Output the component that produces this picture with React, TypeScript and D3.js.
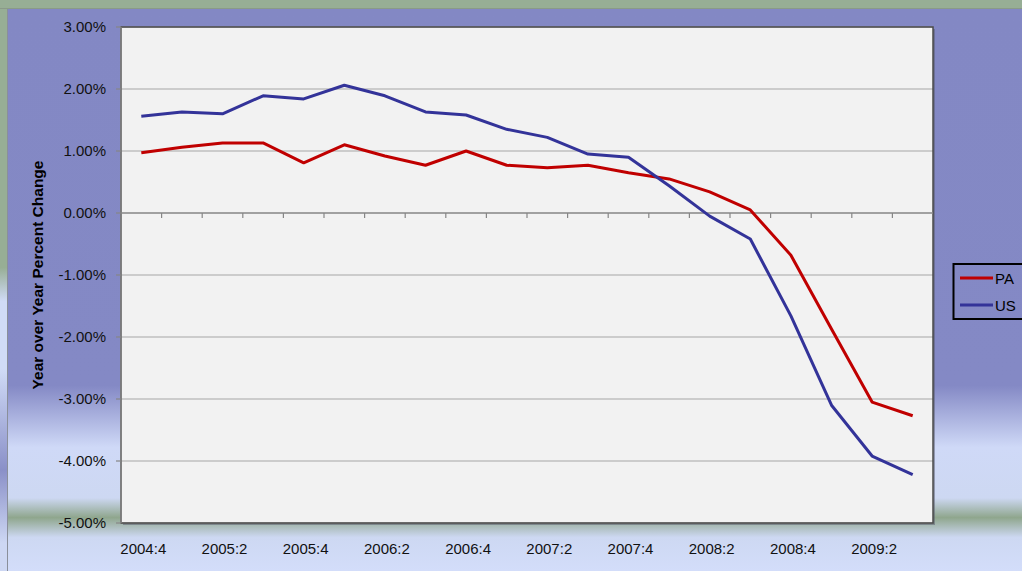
import React from 'react';
import * as d3 from 'd3';

const quarters = [
  '2004:4', '2005:1', '2005:2', '2005:3', '2005:4', '2006:1', '2006:2', '2006:3',
  '2006:4', '2007:1', '2007:2', '2007:3', '2007:4', '2008:1', '2008:2', '2008:3',
  '2008:4', '2009:1', '2009:2', '2009:3',
];
const paValues = [
  0.97, 1.06, 1.13, 1.13, 0.81, 1.10, 0.92, 0.77, 1.00, 0.77,
  0.73, 0.77, 0.65, 0.55, 0.34, 0.05, -0.68, -1.87, -3.05, -3.27,
];
const usValues = [
  1.56, 1.63, 1.60, 1.89, 1.84, 2.06, 1.89, 1.63, 1.58, 1.35,
  1.22, 0.95, 0.90, 0.44, -0.05, -0.42, -1.66, -3.10, -3.92, -4.22,
];
const yTicks = [3, 2, 1, 0, -1, -2, -3, -4, -5];
const xLabels = ['2004:4', '2005:2', '2005:4', '2006:2', '2006:4', '2007:2', '2007:4', '2008:2', '2008:4', '2009:2'];
const series = [
  { name: 'PA', values: paValues, color: '#c00000' },
  { name: 'US', values: usValues, color: '#333399' },
];

const W = 1022, H = 571;
const plot = { left: 121, right: 933, top: 27, bottom: 523 };
const font = '"Liberation Sans", Arial, sans-serif';

export default function App() {
  const x = d3.scaleBand<string>().domain(quarters).range([plot.left, plot.right]);
  const y = d3.scaleLinear().domain([-5, 3]).range([plot.bottom, plot.top]);
  const cx = (q: string) => (x(q) as number) + x.bandwidth() / 2;

  const line = d3.line<number>()
    .x((_, i) => cx(quarters[i]))
    .y((d) => y(d));

  const bounds = quarters.map((q) => x(q) as number).concat([plot.right]);

  return (
    <svg width={W} height={H} style={{ position: 'absolute', left: 0, top: 0 }} fontFamily={font}>
      <defs>
        <linearGradient id="bg" x1="0" y1="9" x2="0" y2={H} gradientUnits="userSpaceOnUse">
          <stop offset="0" stopColor="#8388c4" />
          <stop offset="0.67" stopColor="#8489c5" />
          <stop offset="0.78" stopColor="#cfd9f7" />
          <stop offset="0.87" stopColor="#cdd8f2" />
          <stop offset="0.905" stopColor="#8fa68d" />
          <stop offset="0.94" stopColor="#cdd8f2" />
          <stop offset="1" stopColor="#d3ddfa" />
        </linearGradient>
        <linearGradient id="strip" x1="0" y1="9" x2="0" y2={H} gradientUnits="userSpaceOnUse">
          <stop offset="0" stopColor="#97ae95" />
          <stop offset="0.46" stopColor="#97ae95" />
          <stop offset="0.52" stopColor="#d0dbf6" />
          <stop offset="0.64" stopColor="#d0dbf6" />
          <stop offset="0.82" stopColor="#8a90c8" />
          <stop offset="0.95" stopColor="#cdd7f3" />
          <stop offset="1" stopColor="#cdd7f3" />
        </linearGradient>
      </defs>

      <rect x={0} y={0} width={W} height={H} fill="#97ae95" />
      <rect x={0} y={9} width={7} height={H - 9} fill="url(#strip)" />
      <rect x={8} y={9} width={W - 8} height={H - 9} fill="url(#bg)" />
      <line x1={7.5} x2={7.5} y1={9} y2={H} stroke="#8a8f9a" strokeWidth={1} />
      <line x1={0} x2={W} y1={8.5} y2={8.5} stroke="#8a9a88" strokeWidth={1} />

      {/* plot area */}
      <rect x={plot.left + 2} y={plot.top + 2} width={plot.right - plot.left} height={plot.bottom - plot.top} fill="#55586a" opacity={0.5} />
      <rect x={plot.left} y={plot.top} width={plot.right - plot.left} height={plot.bottom - plot.top} fill="#f2f2f2" />

      {yTicks.filter((t) => t !== 0).map((t) => (
        <line key={t} x1={plot.left} x2={plot.right} y1={y(t)} y2={y(t)} stroke="#a6a6a6" strokeWidth={1.2} />
      ))}

      <rect x={plot.left} y={plot.top} width={plot.right - plot.left} height={plot.bottom - plot.top}
        fill="none" stroke="#4a4a4a" strokeWidth={1.5} />
      <line x1={plot.left} x2={plot.left} y1={plot.top} y2={plot.bottom} stroke="#868686" strokeWidth={1.5} />

      {/* y axis ticks and labels */}
      {yTicks.map((t) => (
        <g key={t}>
          <line x1={plot.left - 5} x2={plot.left} y1={y(t)} y2={y(t)} stroke="#868686" strokeWidth={1.2} />
          <text x={106} y={y(t)} dy="0.35em" textAnchor="end" fontSize={15} fill="#111">
            {t.toFixed(2) + '%'}
          </text>
        </g>
      ))}

      {/* x axis at zero */}
      <line x1={plot.left} x2={plot.right} y1={y(0)} y2={y(0)} stroke="#868686" strokeWidth={1.5} />
      {bounds.slice(1, -1).map((b, i) => (
        <line key={i} x1={b} x2={b} y1={y(0)} y2={y(0) + 5} stroke="#868686" strokeWidth={1.2} />
      ))}
      {xLabels.map((q) => (
        <text key={q} x={cx(q) + 2} y={554} textAnchor="middle" fontSize={15} fill="#111">{q}</text>
      ))}

      <text transform={`translate(43,${(plot.top + plot.bottom) / 2}) rotate(-90)`} textAnchor="middle"
        fontSize={15.5} fontWeight="bold" fill="#000">
        Year over Year Percent Change
      </text>

      {series.map((s) => (
        <path key={s.name} d={line(s.values) ?? ''} fill="none" stroke={s.color} strokeWidth={3} strokeLinejoin="round" />
      ))}

      {/* legend */}
      <rect x={953.5} y={264} width={80} height={55} fill="none" stroke="#000" strokeWidth={2} />
      {series.map((s, i) => (
        <g key={s.name}>
          <line x1={960} x2={993} y1={278 + i * 27} y2={278 + i * 27} stroke={s.color} strokeWidth={3} />
          <text x={995} y={283.5 + i * 27} fontSize={15} fill="#000">{s.name}</text>
        </g>
      ))}
    </svg>
  );
}
